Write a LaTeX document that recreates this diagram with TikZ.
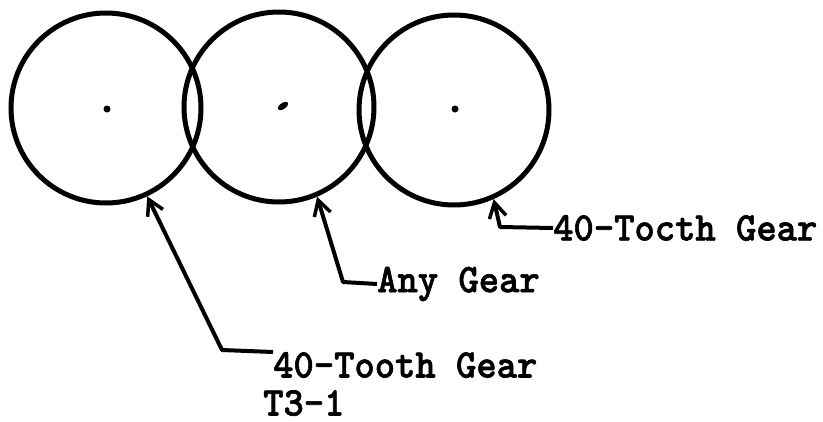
\documentclass[tikz,border=0pt]{standalone}
\usepackage{fontspec}
\usepackage{graphicx}
\newfontfamily\typer{lmmonolt10-bold.otf}[FakeBold=1.5]
\usetikzlibrary{arrows.meta,shapes.geometric}
\tikzset{
  gear/.style={circle, draw, line width=5, minimum size=190, inner sep=0},
  hub/.style={circle, fill, minimum size=7, inner sep=0},
  tag/.style={inner sep=0, font=\fontsize{38.7}{42}\typer},
  leader/.style={line width=4, line join=round, -{Straight Barb[length=15,width=17,line width=3.5]}}
}
\newcommand{\tall}[1]{\scalebox{1}[1.05]{#1}}
\begin{document}
\begin{tikzpicture}[x=1pt,y=-1pt]
  \useasboundingbox (0,0) rectangle (823,421);
  % the three gears in mesh
  \node[gear] (g1) at (106,108) {};
  \node[gear] (g2) at (279,107) {};
  \node[gear] (g3) at (454,110) {};
  \node[hub] (h1) at (107,109) {};
  \node[hub, ellipse, minimum width=12, minimum height=6, rotate=35] (h2) at (283,106) {};
  \node[hub] (h3) at (455,109) {};
  % labels
  \node[tag, anchor=north west] (t1) at (273,352) {\tall{40-Tooth Gear}};
  \node[tag, anchor=north west] (t1b) at (263,390) {\tall{T3-1}};
  \node[tag, anchor=west] (t2) at (377,284) {\tall{Any Gear}};
  \node[tag, anchor=west] (t3) at (553,228) {\tall{40-Tocth Gear}};
  % bends of the leader lines
  \coordinate (k1) at (222,350);
  \coordinate (k2) at (343,282);
  \coordinate (k3) at (500,227);
  \draw[leader] (t1.north west) -- (k1) -- (g1.-65);
  \draw[leader] (t2.west) -- (k2) -- (g2.-67);
  \draw[leader] (t3.west) -- (k3) -- (g3.-66);
\end{tikzpicture}
\end{document}
